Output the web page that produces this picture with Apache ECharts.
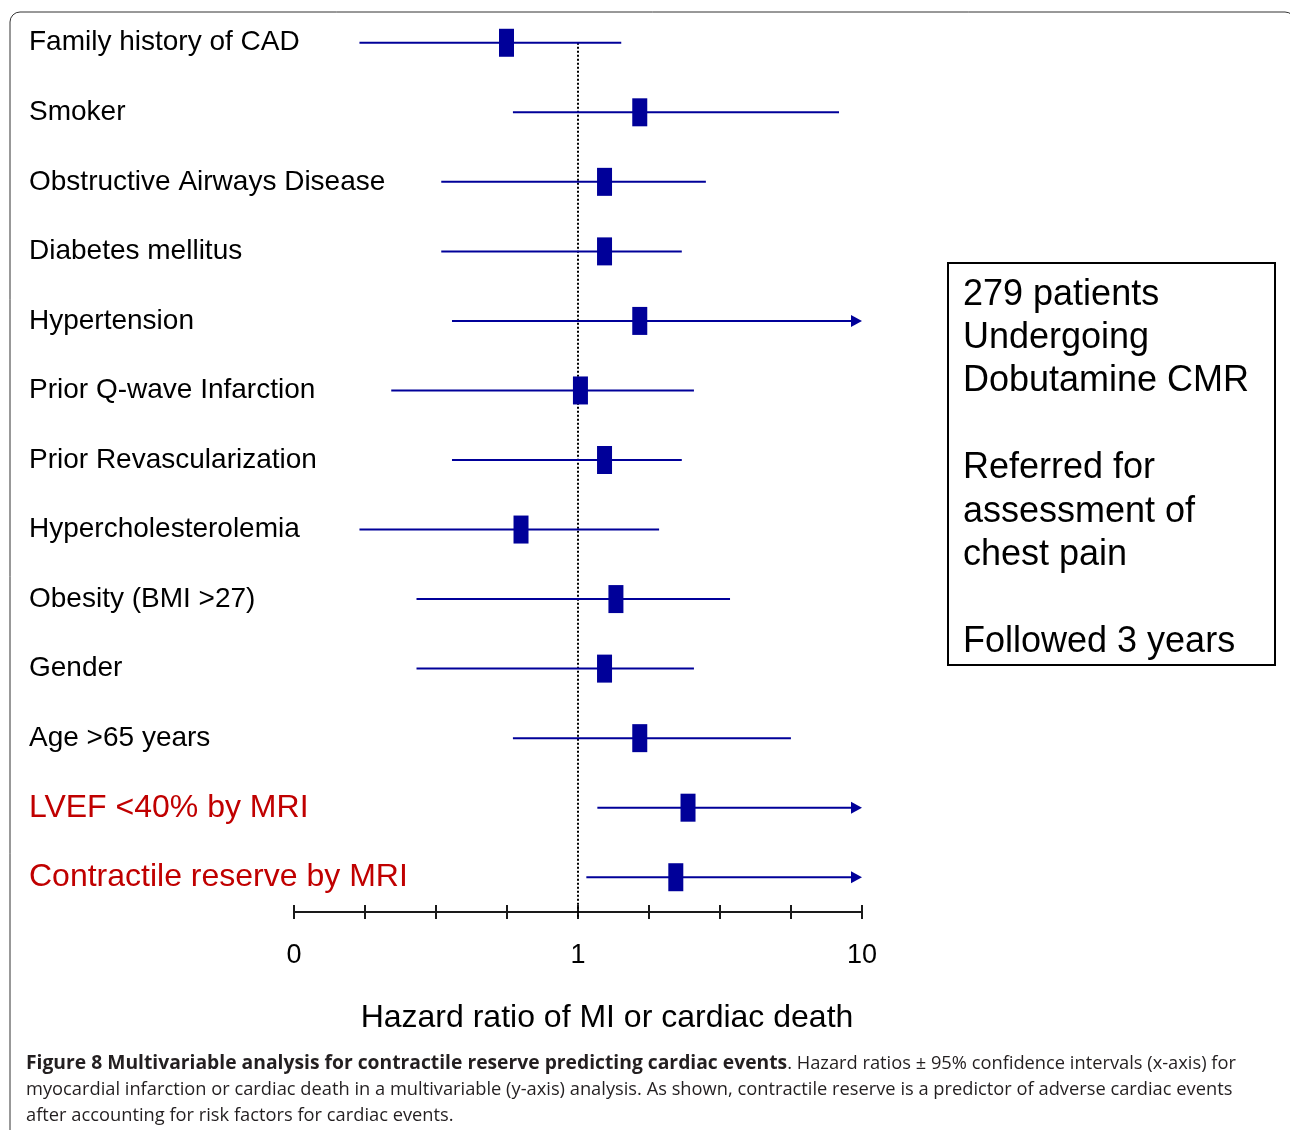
<!DOCTYPE html>
<html>
<head>
<meta charset="utf-8">
<script src="https://cdn.jsdelivr.net/npm/echarts@6/dist/echarts.min.js"></script>
<style>
  html, body { margin: 0; padding: 0; background: #fff; }
  #chart { width: 1290px; height: 1130px; }
</style>
</head>
<body>
<div id="chart"></div>
<script>
// risk factors, top to bottom
const categories = [
  'Family history of CAD',
  'Smoker',
  'Obstructive Airways Disease',
  'Diabetes mellitus',
  'Hypertension',
  'Prior Q-wave Infarction',
  'Prior Revascularization',
  'Hypercholesterolemia',
  'Obesity (BMI >27)',
  'Gender',
  'Age >65 years',
  'LVEF <40% by MRI',
  'Contractile reserve by MRI'
]
const mriRows = ['LVEF <40% by MRI', 'Contractile reserve by MRI']

// hazard ratios with 95% CI
const hrLow  = [0.17, 0.59, 0.33, 0.33, 0.36, 0.22, 0.36, 0.17, 0.27, 0.27, 0.59, 1.17, 1.07]
const hrEst  = [0.56, 1.65, 1.24, 1.24, 1.65, 1.02, 1.24, 0.63, 1.36, 1.24, 1.65, 2.44, 2.21]
const hrHigh = [1.42, 8.3, 2.82, 2.32, 10, 2.56, 2.32, 1.93, 3.43, 2.56, 5.62, 10, 10]

// x axis runs 0.1 .. 10 on a log scale, first tick is labelled "0"
const tickLabels = { '-1': '0', '0': '1', '1': '10' }

const infoText = [
  '279 patients',
  'Undergoing',
  'Dobutamine CMR',
  '',
  'Referred for',
  'assessment of',
  'chest pain',
  '',
  'Followed 3 years'
]

const navy = '#000099'
const font = '"Liberation Sans", Arial, sans-serif'

const rows = categories.map((c, i) => [
  i, Math.log10(hrLow[i]), Math.log10(hrEst[i]), Math.log10(hrHigh[i])
])

const chart = echarts.init(document.getElementById('chart'))

const option = {
  animation: false,
  grid: { left: 294, right: 428, top: 8, bottom: 218 },
  xAxis: [
    {
      type: 'value',
      min: -1,
      max: 1,
      interval: 0.25,
      position: 'bottom',
      splitLine: { show: false },
      axisLine: { show: true, lineStyle: { color: '#1a1a1a', width: 2 } },
      axisTick: { show: true, length: 7, lineStyle: { color: '#1a1a1a', width: 2 } },
      axisLabel: {
        margin: 30,
        fontSize: 27,
        fontFamily: font,
        color: '#000',
        formatter: (v) => tickLabels[String(v)] || ''
      },
      name: 'Hazard ratio of MI or cardiac death',
      nameLocation: 'middle',
      nameGap: 90,
      nameTextStyle: { fontSize: 32, fontFamily: font, color: '#000', padding: [0, 0, 0, 58] }
    },
    {
      type: 'value',
      min: -1,
      max: 1,
      interval: 0.25,
      position: 'bottom',
      splitLine: { show: false },
      axisLine: { show: false },
      axisTick: { show: true, inside: true, length: 7, lineStyle: { color: '#1a1a1a', width: 2 } },
      axisLabel: { show: false }
    }
  ],
  yAxis: {
    type: 'category',
    inverse: true,
    data: categories,
    axisLine: { show: false },
    axisTick: { show: false },
    splitLine: { show: false },
    axisLabel: {
      align: 'left',
      margin: 265,
      fontSize: 28,
      fontFamily: font,
      color: '#000',
      formatter: (v) => mriRows.includes(v) ? '{red|' + v + '}' : v,
      rich: {
        red: { fontSize: 32, fontFamily: font, color: '#c00000' }
      }
    }
  },
  series: [
    {
      // reference line at HR = 1
      type: 'custom',
      data: [[0, 0]],
      encode: { x: 0, y: 1 },
      z: 1,
      renderItem: (params, api) => {
        const top = api.coord([0, 0])
        const cs = params.coordSys
        return {
          type: 'line',
          shape: { x1: top[0], y1: top[1], x2: top[0], y2: cs.y + cs.height + 7 },
          style: { stroke: '#000', lineWidth: 2, lineDash: [2, 2] }
        }
      }
    },
    {
      type: 'custom',
      data: rows,
      encode: { y: 0, x: [1, 2, 3] },
      z: 2,
      renderItem: (params, api) => {
        const cat = api.value(0)
        const lo = api.coord([api.value(1), cat])
        const est = api.coord([api.value(2), cat])
        const hi = api.coord([api.value(3), cat])
        const arrow = api.value(3) >= 1
        const kids = [
          {
            type: 'line',
            shape: { x1: lo[0], y1: lo[1], x2: arrow ? hi[0] - 8 : hi[0], y2: hi[1] },
            style: { stroke: navy, lineWidth: 2 }
          },
          {
            type: 'rect',
            shape: { x: est[0] - 7.5, y: est[1] - 14, width: 15, height: 28 },
            style: { fill: navy }
          }
        ]
        if (arrow) {
          kids.push({
            type: 'polygon',
            shape: { points: [[hi[0] - 11, hi[1] - 6], [hi[0], hi[1]], [hi[0] - 11, hi[1] + 6]] },
            style: { fill: navy }
          })
        }
        return { type: 'group', children: kids }
      }
    }
  ],
  graphic: [
    {
      type: 'rect',
      shape: { x: 10, y: 12, width: 1285, height: 1200, r: 10 },
      style: { fill: 'none', stroke: '#333', lineWidth: 1 },
      silent: true
    },
    {
      type: 'rect',
      shape: { x: 948, y: 263, width: 327, height: 402 },
      style: { fill: '#fff', stroke: '#000', lineWidth: 2 }
    },
    {
      type: 'text',
      left: 963,
      top: 273,
      style: {
        text: infoText.join('\n'),
        font: '36px ' + font,
        fill: '#000',
        lineHeight: 43.4
      }
    },
    {
      type: 'text',
      left: 26,
      top: 1051,
      style: {
        text: '{b|Figure 8 Multivariable analysis for contractile reserve predicting cardiac events}. Hazard ratios ± 95% confidence intervals (x-axis) for\n' +
          'myocardial infarction or cardiac death in a multivariable (y-axis) analysis. As shown, contractile reserve is a predictor of adverse cardiac events\n' +
          'after accounting for risk factors for cardiac events.',
        fontSize: 18.3,
        fontFamily: '"Open Sans", sans-serif',
        fill: '#231f20',
        lineHeight: 26,
        rich: {
          b: { fontSize: 19.3, fontFamily: '"Open Sans", sans-serif', fontWeight: 'bold', fill: '#231f20', lineHeight: 26 }
        }
      }
    }
  ]
}

chart.setOption(option)
</script>
</body>
</html>
